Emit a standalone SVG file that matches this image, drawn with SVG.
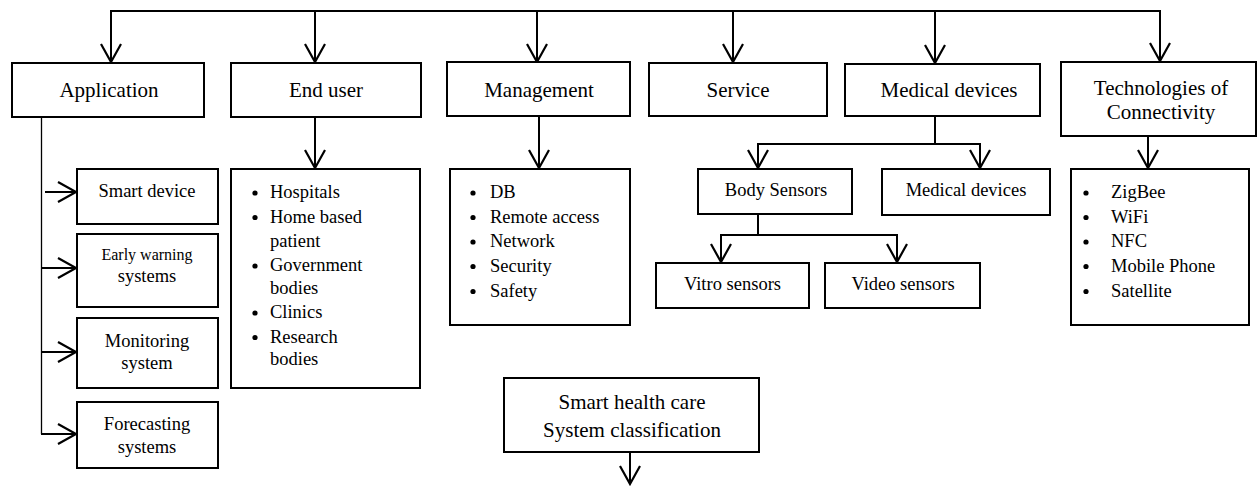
<svg xmlns="http://www.w3.org/2000/svg" width="1258" height="486" viewBox="0 0 1258 486">
  <style>
    .box { fill: #fff; stroke: #000; stroke-width: 2; }
    .ln { fill: none; stroke: #000; stroke-width: 2; }
    .thin { fill: none; stroke: #000; stroke-width: 1.3; }
    text { font-family: "Liberation Serif", "Times New Roman", serif; fill: #000; }
    .lg { font-size: 21px; text-anchor: middle; }
    .md { font-size: 18.5px; text-anchor: middle; }
    .sm { font-size: 16px; text-anchor: middle; }
    .li { font-size: 18.5px; }
    .dot { fill: #000; }
  </style>
  <defs>
    <marker id="arr" markerUnits="userSpaceOnUse" viewBox="0 0 24 24" markerWidth="24" markerHeight="24" refX="21" refY="12" orient="auto">
      <path d="M3,2 L21,12 L3,22" fill="none" stroke="#000" stroke-width="2.2"/>
    </marker>
  </defs>

  <!-- connectors -->
  <g id="connectors">
    <path class="ln" d="M111,11 H1160"/>
    <line class="ln" x1="111" y1="10" x2="111" y2="62" marker-end="url(#arr)"/>
    <line class="ln" x1="315" y1="10" x2="315" y2="62" marker-end="url(#arr)"/>
    <line class="ln" x1="537" y1="10" x2="537" y2="62" marker-end="url(#arr)"/>
    <line class="ln" x1="733" y1="10" x2="733" y2="62" marker-end="url(#arr)"/>
    <line class="ln" x1="935" y1="10" x2="935" y2="63" marker-end="url(#arr)"/>
    <line class="ln" x1="1160" y1="10" x2="1160" y2="61" marker-end="url(#arr)"/>

    <line class="ln" x1="315" y1="117" x2="315" y2="168" marker-end="url(#arr)"/>
    <line class="ln" x1="539" y1="116" x2="539" y2="168" marker-end="url(#arr)"/>
    <line class="ln" x1="1148" y1="136" x2="1148" y2="168" marker-end="url(#arr)"/>

    <path class="ln" d="M935,116 V144 M757,144 H981"/>
    <line class="ln" x1="758" y1="143" x2="758" y2="168" marker-end="url(#arr)"/>
    <line class="ln" x1="980" y1="143" x2="980" y2="168" marker-end="url(#arr)"/>

    <path class="ln" d="M758,214 V235 M720,235 H898"/>
    <line class="ln" x1="721" y1="234" x2="721" y2="262" marker-end="url(#arr)"/>
    <line class="ln" x1="897" y1="234" x2="897" y2="262" marker-end="url(#arr)"/>

    <path class="thin" d="M41.5,117 V434"/>
    <line class="ln" x1="45" y1="192" x2="76" y2="192" marker-end="url(#arr)"/>
    <line class="ln" x1="42" y1="268" x2="76" y2="268" marker-end="url(#arr)"/>
    <line class="ln" x1="42" y1="352" x2="76" y2="352" marker-end="url(#arr)"/>
    <line class="ln" x1="41" y1="434" x2="76" y2="434" marker-end="url(#arr)"/>

    <line class="ln" x1="630" y1="452" x2="630" y2="484" marker-end="url(#arr)"/>
  </g>

  <!-- top level categories -->
  <g id="application">
    <rect class="box" x="12" y="63" width="192" height="54"/>
    <text class="lg" x="109" y="97">Application</text>
  </g>
  <g id="end-user">
    <rect class="box" x="231" y="63" width="190" height="54"/>
    <text class="lg" x="326" y="97">End user</text>
  </g>
  <g id="management">
    <rect class="box" x="447" y="62" width="183" height="54"/>
    <text class="lg" x="539" y="97">Management</text>
  </g>
  <g id="service">
    <rect class="box" x="649" y="63" width="178" height="53"/>
    <text class="lg" x="738" y="97">Service</text>
  </g>
  <g id="medical-devices">
    <rect class="box" x="845" y="64" width="195" height="52"/>
    <text class="lg" x="949" y="97">Medical devices</text>
  </g>
  <g id="connectivity">
    <rect class="box" x="1061" y="62" width="195" height="74"/>
    <text class="lg" x="1161" y="95">Technologies of</text>
    <text class="lg" x="1161" y="119">Connectivity</text>
  </g>

  <!-- application sub-types -->
  <g id="smart-device">
    <rect class="box" x="77" y="169" width="141" height="55"/>
    <text class="md" x="147" y="197">Smart device</text>
  </g>
  <g id="early-warning">
    <rect class="box" x="77" y="234" width="141" height="73"/>
    <text class="sm" x="147" y="260">Early warning</text>
    <text class="md" x="147" y="282">systems</text>
  </g>
  <g id="monitoring">
    <rect class="box" x="77" y="318" width="141" height="70"/>
    <text class="md" x="147" y="347">Monitoring</text>
    <text class="md" x="147" y="369">system</text>
  </g>
  <g id="forecasting">
    <rect class="box" x="77" y="402" width="141" height="66"/>
    <text class="md" x="147" y="430">Forecasting</text>
    <text class="md" x="147" y="453">systems</text>
  </g>

  <!-- end user list -->
  <g id="end-user-list">
    <rect class="box" x="231" y="169" width="189" height="219"/>
    <circle class="dot" cx="255" cy="193" r="2.6"/>
    <text class="li" x="270" y="198">Hospitals</text>
    <circle class="dot" cx="255" cy="217.5" r="2.6"/>
    <text class="li" x="270" y="222.5">Home based</text>
    <text class="li" x="270" y="246.5">patient</text>
    <circle class="dot" cx="255" cy="266" r="2.6"/>
    <text class="li" x="270" y="271">Government</text>
    <text class="li" x="270" y="294">bodies</text>
    <circle class="dot" cx="255" cy="313" r="2.6"/>
    <text class="li" x="270" y="318">Clinics</text>
    <circle class="dot" cx="255" cy="337.5" r="2.6"/>
    <text class="li" x="270" y="342.5">Research</text>
    <text class="li" x="270" y="365">bodies</text>
  </g>

  <!-- management list -->
  <g id="management-list">
    <rect class="box" x="450" y="169" width="180" height="156"/>
    <circle class="dot" cx="473" cy="193" r="2.6"/>
    <text class="li" x="490" y="198">DB</text>
    <circle class="dot" cx="473" cy="217.5" r="2.6"/>
    <text class="li" x="490" y="222.5">Remote access</text>
    <circle class="dot" cx="473" cy="242" r="2.6"/>
    <text class="li" x="490" y="247">Network</text>
    <circle class="dot" cx="473" cy="266.5" r="2.6"/>
    <text class="li" x="490" y="271.5">Security</text>
    <circle class="dot" cx="473" cy="291.5" r="2.6"/>
    <text class="li" x="490" y="296.5">Safety</text>
  </g>

  <!-- medical device sub-types -->
  <g id="body-sensors">
    <rect class="box" x="698" y="169" width="154" height="45"/>
    <text class="md" x="776" y="196">Body Sensors</text>
  </g>
  <g id="medical-devices-sub">
    <rect class="box" x="882" y="169" width="168" height="46"/>
    <text class="md" x="966" y="196">Medical devices</text>
  </g>
  <g id="vitro-sensors">
    <rect class="box" x="656" y="263" width="153" height="45"/>
    <text class="md" x="732.5" y="290">Vitro sensors</text>
  </g>
  <g id="video-sensors">
    <rect class="box" x="825" y="263" width="155" height="45"/>
    <text class="md" x="903" y="290">Video sensors</text>
  </g>

  <!-- connectivity list -->
  <g id="connectivity-list">
    <rect class="box" x="1071" y="169" width="178" height="156"/>
    <circle class="dot" cx="1086" cy="193" r="2.6"/>
    <text class="li" x="1111" y="198">ZigBee</text>
    <circle class="dot" cx="1086" cy="217.5" r="2.6"/>
    <text class="li" x="1111" y="222.5">WiFi</text>
    <circle class="dot" cx="1086" cy="242" r="2.6"/>
    <text class="li" x="1111" y="247">NFC</text>
    <circle class="dot" cx="1086" cy="266.5" r="2.6"/>
    <text class="li" x="1111" y="271.5">Mobile Phone</text>
    <circle class="dot" cx="1086" cy="291.5" r="2.6"/>
    <text class="li" x="1111" y="296.5">Satellite</text>
  </g>

  <!-- root -->
  <g id="smart-health-care">
    <rect class="box" x="504" y="378" width="255" height="74"/>
    <text class="lg" x="632" y="409">Smart health care</text>
    <text class="lg" x="632" y="437">System classification</text>
  </g>
</svg>
